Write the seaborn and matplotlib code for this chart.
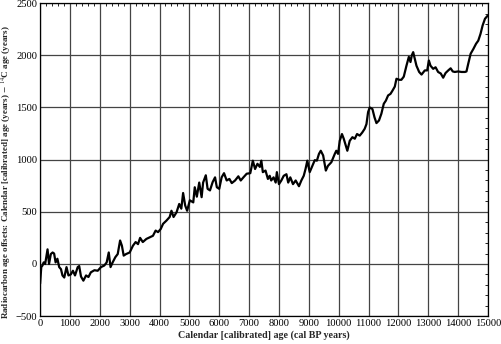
import numpy as np
import pandas as pd
import seaborn as sns
import matplotlib.pyplot as plt
from matplotlib.ticker import MultipleLocator

# calendar age (cal BP)
cal_age = [0, 40, 80, 120, 170, 250, 300, 360, 420, 470, 520, 580, 640, 700, 750,
           810, 885, 950, 1030, 1100, 1170, 1260, 1310, 1370, 1450, 1540, 1620, 1700,
           1820, 1930, 2040, 2150, 2230, 2300, 2360, 2430, 2520, 2600, 2680, 2740,
           2800, 2880, 3000, 3110, 3200, 3280, 3350, 3440, 3560, 3670, 3780, 3870,
           3950, 4040, 4120, 4230, 4340, 4400, 4470, 4570, 4660, 4730, 4790, 4860,
           4925, 5015, 5130, 5180, 5250, 5330, 5410, 5460, 5550, 5610, 5690, 5780,
           5860, 5920, 6000, 6080, 6160, 6250, 6340, 6420, 6530, 6640, 6720, 6810,
           6920, 7040, 7125, 7200, 7280, 7360, 7410, 7460, 7550, 7630, 7690, 7740,
           7820, 7890, 7930, 8000, 8080, 8160, 8250, 8310, 8380, 8470, 8560, 8670,
           8750, 8830, 8890, 8950, 9030, 9120, 9200, 9270, 9340, 9400, 9480, 9570,
           9640, 9755, 9870, 9920, 9980, 10035, 10110, 10170, 10240, 10290, 10370,
           10460, 10540, 10615, 10705, 10790, 10870, 10930, 10985, 11040, 11130,
           11200, 11265, 11350, 11430, 11510, 11580, 11655, 11735, 11800, 11880,
           11935, 12025, 12100, 12180, 12270, 12350, 12405, 12450, 12495, 12550,
           12605, 12695, 12775, 12885, 12965, 13020, 13075, 13165, 13245, 13330,
           13420, 13500, 13580, 13670, 13750, 13820, 13890, 14000, 14115, 14230,
           14280, 14340, 14420, 14510, 14600, 14675, 14750, 14820, 14900, 14975,
           15000]

# offset = calendar age - 14C age (years)
offset = [-190, -30, -15, 15, 0, 140, 0, 95, 110, 100, 15, 50, -30, -50, -110,
          -130, -30, -110, -100, -65, -110, -30, -20, -120, -160, -110, -125, -80,
          -60, -65, -30, -15, 15, 110, -30, 15, 65, 95, 225, 175,
          80, 95, 110, 175, 210, 190, 250, 210, 240, 255, 270, 320,
          305, 335, 385, 415, 450, 510, 450, 495, 575, 530, 680, 560,
          510, 610, 590, 735, 645, 780, 640, 780, 850, 720, 705, 785,
          830, 735, 720, 830, 870, 800, 815, 775, 800, 840, 800, 830,
          865, 870, 990, 910, 960, 930, 990, 880, 895, 815, 845, 800,
          830, 780, 880, 765, 800, 845, 860, 780, 830, 765, 800, 745,
          800, 845, 910, 990, 880, 940, 995, 990, 1055, 1085, 1040, 895,
          940, 975, 1055, 1085, 1055, 1180, 1245, 1200, 1135, 1085, 1180,
          1215, 1200, 1245, 1230, 1260, 1295, 1340, 1455, 1500, 1485,
          1405, 1350, 1375, 1440, 1535, 1565, 1615, 1630, 1660, 1700,
          1775, 1765, 1765, 1795, 1900, 1985, 1935, 2000, 2030, 1965,
          1900, 1840, 1815, 1855, 1855, 1950, 1900, 1870, 1885, 1840,
          1825, 1785, 1830, 1855, 1875, 1845, 1840, 1845, 1840, 1840,
          1845, 1920, 2015, 2060, 2110, 2140, 2205, 2285, 2350, 2375,
          2380]

x_ticks = np.arange(0, 15001, 1000)
y_ticks = np.arange(-500, 2501, 500)

df = pd.DataFrame({"cal": cal_age, "offset": offset})

sns.set_theme(style="white")
plt.rcParams['font.family'] = ['Liberation Serif', 'DejaVu Serif']
plt.rcParams['mathtext.fontset'] = 'stix'

fig = plt.figure(figsize=(5.01, 3.44), dpi=100)
ax = fig.add_axes([0.080, 0.081, 0.894, 0.910])

sns.lineplot(data=df, x="cal", y="offset", color="black", linewidth=1.6, ax=ax)

ax.set_xlim(0, 15000)
ax.set_ylim(-500, 2500)
ax.set_xticks(x_ticks)
ax.set_yticks(y_ticks)
ax.xaxis.set_minor_locator(MultipleLocator(200))
ax.yaxis.set_minor_locator(MultipleLocator(100))
ax.grid(True, which="major", color="#444444", linewidth=0.9)
ax.tick_params(which="both", direction="in", top=True, right=True,
               labelsize=7.6, pad=2, colors="black")
ax.tick_params(which="major", length=0)
ax.tick_params(which="minor", length=2, width=0.6)
for s in ax.spines.values():
    s.set_color("black")
    s.set_linewidth(0.9)

ax.set_xlabel("Calendar [calibrated] age (cal BP years)", fontsize=7.2,
              fontweight="bold", labelpad=2)
ax.set_ylabel(r"Radiocarbon age offsets: Calendar [calibrated] age (years) $-$ $^{14}$C age (years)",
              fontsize=6.5, fontweight="bold")
# y label sits at the far left, a bit below the axes centre
ax.yaxis.set_label_coords(-0.058, 0.46)

fig.savefig("out.png", dpi=100)
